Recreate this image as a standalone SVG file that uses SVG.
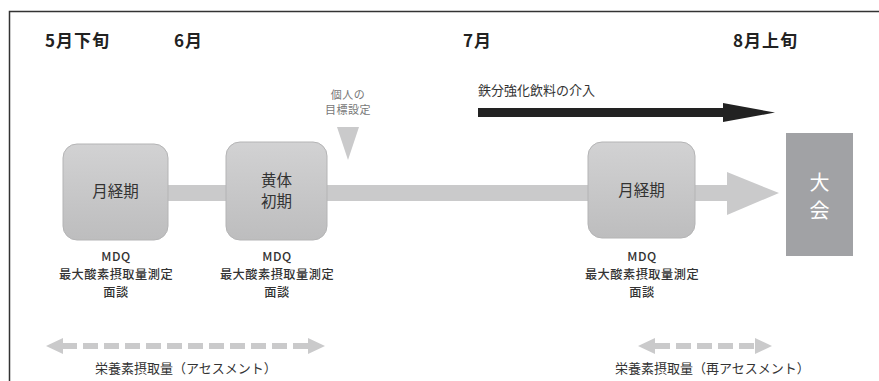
<svg xmlns="http://www.w3.org/2000/svg" width="879" height="381" viewBox="0 0 879 381">
<defs>
<linearGradient id="boxg" x1="0" y1="0" x2="0" y2="1">
<stop offset="0" stop-color="#d2d2d3"/>
<stop offset="1" stop-color="#bdbdbe"/>
</linearGradient>
<style>
.t{font-family:"Noto Sans CJK JP","Noto Sans",sans-serif;}
.h{font-size:17px;font-weight:bold;fill:#222;letter-spacing:1px;}
.bx{fill:url(#boxg);stroke:#b4b4b5;stroke-width:1;}
.bt{font-size:15.5px;fill:#333;text-anchor:middle;}
.m{font-size:12.2px;fill:#333;text-anchor:middle;font-weight:500;letter-spacing:0.5px;}
.s{font-size:13px;fill:#333;}
.g{fill:#cacacb;}
.dash{stroke:#cacacb;stroke-width:6;stroke-dasharray:15 6;fill:none;}
</style>
</defs>
<rect width="879" height="381" fill="#fff"/>
<path d="M9.5 400 V11.5 H900" fill="none" stroke="#333" stroke-width="1.5"/>
<g id="headings">
<text class="t h" x="45" y="47">5月下旬</text>
<text class="t h" x="174" y="47">6月</text>
<text class="t h" x="463" y="47">7月</text>
<text class="t h" x="733" y="47">8月上旬</text>
</g>
<g id="connectors">
<rect class="g" x="110" y="185" width="618" height="16"/>
<polygon class="g" points="727,172 779,193 727,215"/>
<polygon class="g" points="337,127 359,127 348,160"/>
<g id="iron-arrow">
<rect x="478" y="108" width="246" height="9" fill="#222"/>
<polygon points="723,103 775,112.5 723,122" fill="#222"/>
</g>
<g id="assess1">
<line class="dash" x1="62" y1="346" x2="310" y2="346"/>
<polygon class="g" points="46,346 63,338 63,354"/>
<polygon class="g" points="325,346 308,338 308,354"/>
</g>
<g id="assess2">
<line class="dash" x1="655" y1="346" x2="755" y2="346"/>
<polygon class="g" points="638,346 655,338 655,354"/>
<polygon class="g" points="772,346 755,338 755,354"/>
</g>
</g>
<g id="goal">
<text class="t" x="348" y="99" font-size="11" fill="#777" text-anchor="middle" letter-spacing="0.5">個人の</text>
<text class="t" x="348" y="114" font-size="11" fill="#777" text-anchor="middle" letter-spacing="0.5">目標設定</text>
</g>
<text class="t s" x="478" y="95" font-size="12.5">鉄分強化飲料の介入</text>
<g id="box1">
<rect class="bx" x="63" y="144" width="105" height="96" rx="14"/>
<text class="t bt" x="115.5" y="197">月経期</text>
</g>
<g id="box2">
<rect class="bx" x="226" y="142" width="101" height="98" rx="14"/>
<text class="t bt" x="276.5" y="186">黄体</text>
<text class="t bt" x="276.5" y="207">初期</text>
</g>
<g id="box3">
<rect class="bx" x="588" y="142" width="107" height="96" rx="14"/>
<text class="t bt" x="641.5" y="196">月経期</text>
</g>
<g id="taikai">
<rect x="786" y="133" width="67" height="123" fill="#a1a2a5"/>
<text class="t" x="819.5" y="190" font-size="20" fill="#fff" text-anchor="middle">大</text>
<text class="t" x="819.5" y="218" font-size="20" fill="#fff" text-anchor="middle">会</text>
</g>
<g id="labels1">
<text class="t m" x="116" y="261">MDQ</text>
<text class="t m" x="116" y="279">最大酸素摂取量測定</text>
<text class="t m" x="116" y="297">面談</text>
</g>
<g id="labels2">
<text class="t m" x="277" y="261">MDQ</text>
<text class="t m" x="277" y="279">最大酸素摂取量測定</text>
<text class="t m" x="277" y="297">面談</text>
</g>
<g id="labels3">
<text class="t m" x="642" y="261">MDQ</text>
<text class="t m" x="642" y="279">最大酸素摂取量測定</text>
<text class="t m" x="642" y="297">面談</text>
</g>
<text class="t s" x="95" y="373">栄養素摂取量（アセスメント）</text>
<text class="t s" x="615" y="373">栄養素摂取量（再アセスメント）</text>
</svg>
